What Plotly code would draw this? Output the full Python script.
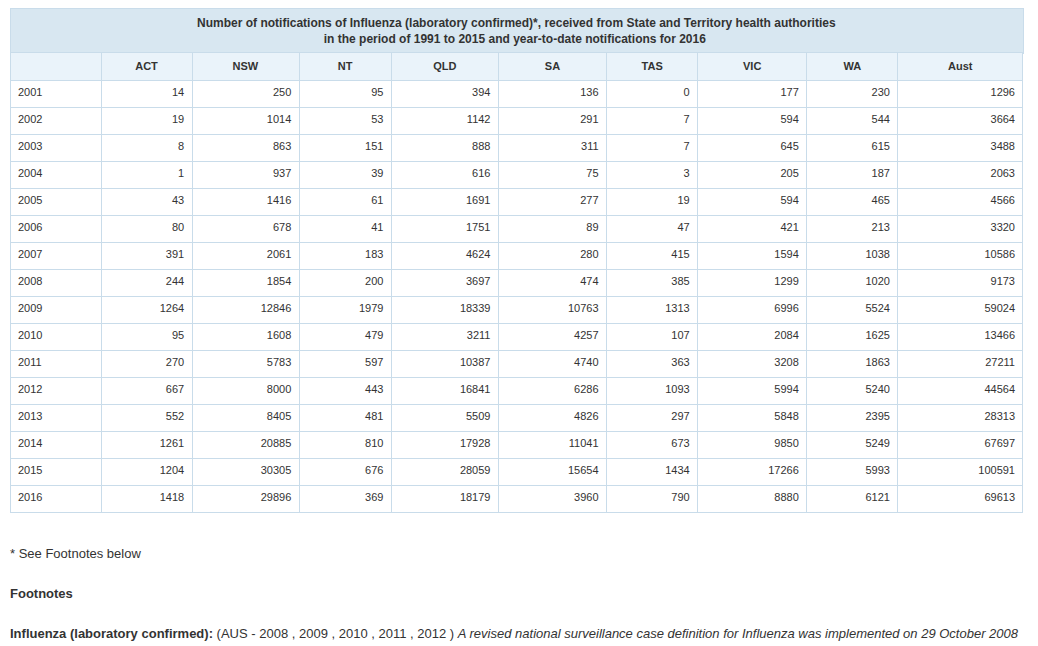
import plotly.graph_objects as go

# notifications by year and jurisdiction
years = ["2001", "2002", "2003", "2004", "2005", "2006", "2007", "2008",
         "2009", "2010", "2011", "2012", "2013", "2014", "2015", "2016"]
act = [14, 19, 8, 1, 43, 80, 391, 244, 1264, 95, 270, 667, 552, 1261, 1204, 1418]
nsw = [250, 1014, 863, 937, 1416, 678, 2061, 1854, 12846, 1608, 5783, 8000,
       8405, 20885, 30305, 29896]
nt = [95, 53, 151, 39, 61, 41, 183, 200, 1979, 479, 597, 443, 481, 810, 676, 369]
qld = [394, 1142, 888, 616, 1691, 1751, 4624, 3697, 18339, 3211, 10387, 16841,
       5509, 17928, 28059, 18179]
sa = [136, 291, 311, 75, 277, 89, 280, 474, 10763, 4257, 4740, 6286, 4826,
      11041, 15654, 3960]
tas = [0, 7, 7, 3, 19, 47, 415, 385, 1313, 107, 363, 1093, 297, 673, 1434, 790]
vic = [177, 594, 645, 205, 594, 421, 1594, 1299, 6996, 2084, 3208, 5994, 5848,
       9850, 17266, 8880]
wa = [230, 544, 615, 187, 465, 213, 1038, 1020, 5524, 1625, 1863, 5240, 2395,
      5249, 5993, 6121]
aust = [1296, 3664, 3488, 2063, 4566, 3320, 10586, 9173, 59024, 13466, 27211,
        44564, 28313, 67697, 100591, 69613]

columns = ["", "ACT", "NSW", "NT", "QLD", "SA", "TAS", "VIC", "WA", "Aust"]
col_widths = [91, 91, 107, 92, 107, 108, 91, 109, 91, 125]

title_lines = [
    "Number of notifications of Influenza (laboratory confirmed)*, received from "
    "State and Territory health authorities",
    "in the period of 1991 to 2015 and year-to-date notifications for 2016",
]

# the page body adds an 8px margin, so the figure is 8px smaller each way
OFF = 8
W, H = 1038 - OFF, 646 - OFF
FONT = "Liberation Sans, Arial, sans-serif"
BORDER = "#c9dcea"
TITLE_BG = "#d8e7f1"
TEXT = "#333333"


def px_x(v):
    return (v - OFF) / W


def px_y(v):
    return 1 - (v - OFF) / H


# plotly left-aligns the lines of a multi-line cell, so indent the second
# line to centre it under the first
title_text = "<b>%s<br>%s%s</b>" % (title_lines[0], "&nbsp;" * 38, title_lines[1])

fig = go.Figure()

# title bar: header of a one-column table; its blank body row sits under
# the main table, which is drawn on top of it
fig.add_trace(go.Table(
    domain=dict(x=[px_x(10), px_x(1023)], y=[px_y(81), px_y(8)]),
    header=dict(
        values=[title_text],
        fill_color=TITLE_BG,
        line_color=BORDER,
        align="center",
        height=44,
        font=dict(family=FONT, size=12, color=TEXT),
    ),
    cells=dict(values=[[""]], height=28, fill_color="white", line_color="white"),
))

fig.add_trace(go.Table(
    domain=dict(x=[px_x(10), px_x(1023)], y=[px_y(520), px_y(52)]),
    columnwidth=col_widths,
    header=dict(
        values=["<b>%s</b>" % c for c in columns],
        fill_color="#eaf3fa",
        line_color=BORDER,
        align="center",
        height=28,
        font=dict(family=FONT, size=11, color=TEXT),
    ),
    cells=dict(
        values=[years, act, nsw, nt, qld, sa, tas, vic, wa, aust],
        fill_color="white",
        line_color=BORDER,
        align=["left"] + ["right"] * 9,
        height=27,
        font=dict(family=FONT, size=11, color=TEXT),
    ),
))

notes = [
    (553, "* See Footnotes below"),
    (593, "<b>Footnotes</b>"),
    (633, "<b>Influenza (laboratory confirmed):</b> (AUS - 2008 , 2009 , 2010 , 2011 , 2012 ) "
          "<i>A revised national surveillance case definition for Influenza was "
          "implemented on 29 October 2008</i>"),
]
for ypos, txt in notes:
    fig.add_annotation(
        x=px_x(8), y=px_y(ypos), xref="paper", yref="paper",
        xanchor="left", yanchor="middle", showarrow=False,
        text=txt, font=dict(family=FONT, size=13, color=TEXT),
    )

fig.update_layout(
    width=W, height=H,
    margin=dict(l=0, r=0, t=0, b=0),
    paper_bgcolor="white",
    plot_bgcolor="white",
)

fig.write_html("out.html")
